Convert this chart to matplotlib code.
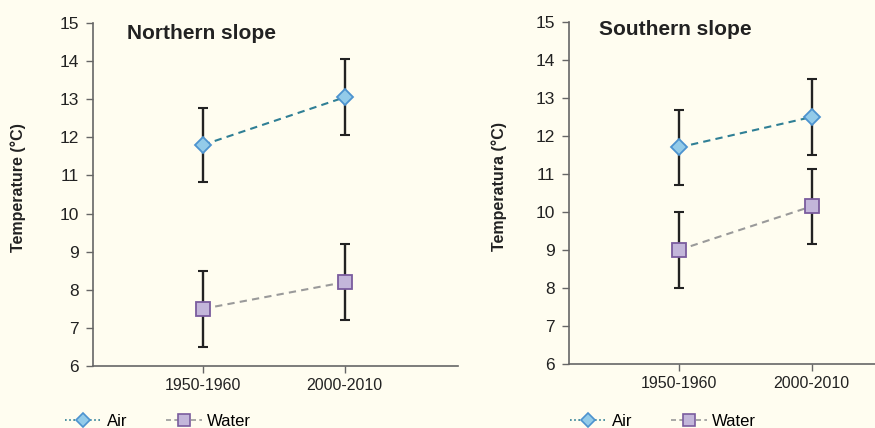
import matplotlib.pyplot as plt
import numpy as np

plt.rcParams['font.family'] = ['Liberation Sans', 'DejaVu Sans']

periods = ["1950-1960", "2000-2010"]

# Northern slope
north_air = [11.8, 13.05]
north_air_err = [0.97, 1.0]
north_water = [7.5, 8.2]
north_water_err = [1.0, 1.0]

# Southern slope
south_air = [11.7, 12.5]
south_air_err = [0.98, 1.0]
south_water = [9.0, 10.15]
south_water_err = [1.0, 0.98]

bg = "#fffdf0"
air_line = "#2f7f95"
air_face = "#93cbe9"
air_edge = "#4d93cf"
water_line = "#9a9a9a"
water_face = "#c3b6da"
water_edge = "#7a5c9e"
err_col = "#222222"
spine_col = "#666666"

fig = plt.figure(figsize=(8.75, 4.28), dpi=100, facecolor=bg)

ax1 = fig.add_axes([93/875, 1-366/428, 365/875, 343/428])
ax2 = fig.add_axes([569/875, 1-364/428, 353/875, 342/428])

panels = [
    (ax1, "Northern slope", "Temperature (°C)", north_air, north_air_err,
     north_water, north_water_err, (0.225, 2.8), 65, (0.093, 0.97), -0.184),
    (ax2, "Southern slope", "Temperatura (°C)", south_air, south_air_err,
     south_water, south_water_err, (0.173, 2.83), 570, (0.085, 0.978), -0.176),
]

x = np.arange(1, len(periods) + 1)

for ax, title, ylab, air, air_err, water, water_err, xl, leg_x, tpos, ylx in panels:
    ax.set_facecolor(bg)
    ax.errorbar(x, air, yerr=air_err, fmt="none", ecolor=err_col,
                elinewidth=1.7, capsize=3.5, capthick=1.5, zorder=2)
    ax.errorbar(x, water, yerr=water_err, fmt="none", ecolor=err_col,
                elinewidth=1.7, capsize=3.5, capthick=1.5, zorder=2)
    ax.plot(x, air, linestyle=(0, (3.5, 2.5)), color=air_line, lw=1.5,
            marker="D", ms=8.5, mfc=air_face, mec=air_edge, mew=1.3, zorder=3)
    ax.plot(x, water, linestyle=(0, (3.5, 2.5)), color=water_line, lw=1.5,
            marker="s", ms=9.5, mfc=water_face, mec=water_edge, mew=1.3, zorder=3)

    ax.set_xlim(*xl)
    ax.set_ylim(6, 15)
    ax.set_yticks(range(6, 16))
    ax.set_xticks(x)
    ax.set_xticklabels(periods)
    for s in ["top", "right"]:
        ax.spines[s].set_visible(False)
    for s in ["left", "bottom"]:
        ax.spines[s].set_color(spine_col)
        ax.spines[s].set_linewidth(1.2)
    ax.tick_params(axis="both", colors=spine_col, labelcolor="#222222",
                   length=5, width=1)
    ax.tick_params(axis="y", labelsize=12.5, pad=5)
    ax.tick_params(axis="x", labelsize=11.5, pad=4)
    ax.set_ylabel(ylab, fontsize=11.5, fontweight="bold", color="#222222")
    ax.yaxis.set_label_coords(ylx, 0.52)
    ax.text(tpos[0], tpos[1], title, transform=ax.transAxes, fontsize=15,
            fontweight="bold", color="#222222", va="center", ha="left")

    # legend drawn below each panel
    h_air, = ax.plot([], [], linestyle=(0, (1, 1.5)), color=air_line, lw=1.2,
                     marker="D", ms=7, mfc=air_face, mec=air_edge, mew=1.2)
    h_water, = ax.plot([], [], linestyle=(0, (3, 2)), color=water_line, lw=1.2,
                       marker="s", ms=8.5, mfc=water_face, mec=water_edge, mew=1.2)
    fig.legend([h_air, h_water], ["Air", "Water"], loc="center left",
               bbox_to_anchor=(leg_x/875, 1-421/428), ncol=2, frameon=False,
               fontsize=12, handlelength=2.2, columnspacing=2.3,
               handletextpad=0.3, borderaxespad=0, borderpad=0)

fig.savefig("out.png", dpi=100, facecolor=bg)
